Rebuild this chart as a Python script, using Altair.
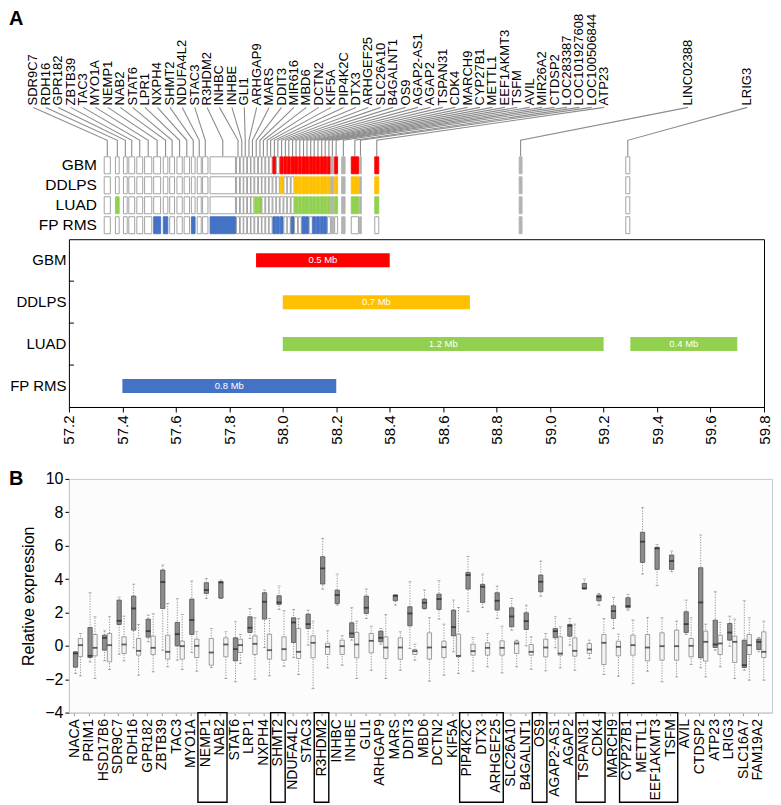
import altair as alt
import pandas as pd
import numpy as np

FONT = "Liberation Sans"

# ---------------- Panel A : gene map ----------------
map_genes = ["SDR9C7", "RDH16", "GPR182", "ZBTB39", "TAC3", "MYO1A", "NEMP1", "NAB2", "STAT6", "LPR1",
             "NXPH4", "SHMT2", "NDUFA4L2", "STAC3", "R3HDM2", "INHBC", "INHBE", "GLI1", "ARHGAP9", "MARS",
             "DDIT3", "MIR616", "MBD6", "DCTN2", "KIF5A", "PIP4K2C", "DTX3", "ARHGEF25", "SLC26A10", "B4GALNT1",
             "OS9", "AGAP2-AS1", "AGAP2", "TSPAN31", "CDK4", "MARCH9", "CYP27B1", "METTL1", "EEF1AKMT3", "TSFM",
             "AVIL", "MIR26A2", "CTDSP2", "LOC283387", "LOC101927608", "LOC100506844", "ATP23", "LINC02388", "LRIG3"]
cell_start = [57.332, 57.374, 57.404, 57.424, 57.454, 57.483, 57.517, 57.553, 57.577, 57.604,
              57.631, 57.658, 57.680, 57.700, 57.728, 57.827, 57.841, 57.854, 57.868, 57.881,
              57.895, 57.909, 57.922, 57.936, 57.949, 57.963, 57.976, 57.990, 58.004, 58.017,
              58.031, 58.044, 58.058, 58.072, 58.085, 58.099, 58.112, 58.126, 58.140, 58.153,
              58.167, 58.180, 58.194, 58.220, 58.256, 58.287, 58.344, 58.884, 59.283]
cell_end = [57.355, 57.388, 57.418, 57.446, 57.476, 57.510, 57.543, 57.570, 57.595, 57.624,
            57.651, 57.672, 57.695, 57.720, 57.823, 57.838, 57.852, 57.865, 57.879, 57.892,
            57.906, 57.920, 57.933, 57.947, 57.960, 57.974, 57.987, 58.001, 58.015, 58.028,
            58.042, 58.055, 58.069, 58.083, 58.096, 58.110, 58.123, 58.137, 58.151, 58.164,
            58.178, 58.191, 58.205, 58.233, 58.283, 58.294, 58.359, 58.895, 59.298]

rows = ["GBM", "DDLPS", "LUAD", "FP RMS"]
row_colors = ["#ff0000", "#ffc000", "#92d050", "#4472c4"]
amp_genes = {
    "GBM": ["PIP4K2C", "ARHGEF25", "SLC26A10", "B4GALNT1", "OS9", "AGAP2-AS1", "AGAP2", "TSPAN31", "CDK4",
            "MARCH9", "CYP27B1", "METTL1", "EEF1AKMT3", "TSFM", "AVIL", "CTDSP2", "LOC101927608", "ATP23"],
    "DDLPS": ["ARHGEF25", "AGAP2-AS1", "AGAP2", "TSPAN31", "CDK4", "MARCH9", "CYP27B1", "METTL1",
              "EEF1AKMT3", "TSFM", "AVIL", "CTDSP2", "LOC101927608", "ATP23"],
    "LUAD": ["RDH16", "DDIT3", "MIR616", "AGAP2-AS1", "AGAP2", "TSPAN31", "CDK4", "MARCH9", "CYP27B1",
             "METTL1", "EEF1AKMT3", "TSFM", "AVIL", "CTDSP2", "LOC101927608", "ATP23"],
    "FP RMS": ["NEMP1", "NAB2", "SHMT2", "R3HDM2", "PIP4K2C", "DTX3", "ARHGEF25", "OS9", "TSPAN31", "CDK4",
               "CYP27B1", "METTL1", "EEF1AKMT3", "TSFM"],
}
na_genes = ["MIR26A2", "LOC283387", "LOC100506844", "LINC02388"]

bar_rows = ["GBM", "DDLPS", "LUAD", "LUAD", "FP RMS"]
bar_start = [57.9, 58.0, 58.0, 59.3, 57.4]
bar_end = [58.4, 58.7, 59.2, 59.7, 58.2]
bar_text = ["0.5 Mb", "0.7 Mb", "1.2 Mb", "0.4 Mb", "0.8 Mb"]
mb_ticks = [57.2, 57.4, 57.6, 57.8, 58.0, 58.2, 58.4, 58.6, 58.8, 59.0, 59.2, 59.4, 59.6, 59.8]

# ---------------- Panel B : expression ----------------
box_genes = ["NACA", "PRIM1", "HSD17B6", "SDR9C7", "RDH16", "GPR182", "ZBTB39", "TAC3", "MYO1A", "NEMP1",
             "NAB2", "STAT6", "LRP1", "NXPH4", "SHMT2", "NDUFA4L2", "STAC3", "R3HDM2", "INHBC", "INHBE",
             "GLI1", "ARHGAP9", "MARS", "DDIT3", "MBD6", "DCTN2", "KIF5A", "PIP4K2C", "DTX3", "ARHGEF25",
             "SLC26A10", "B4GALNT1", "OS9", "AGAP2-AS1", "AGAP2", "TSPAN31", "CDK4", "MARCH9", "CYP27B1", "METTL1",
             "EEF1AKMT3", "TSFM", "AVIL", "CTDSP2", "ATP23", "LRIG3", "SLC16A7", "FAM19A2"]
# tumour (dark boxes)
t_lo = [-1.66, -0.96, -0.9, -0.5, -0.12, 0.24, -0.26, -0.86, -0.4, 2.84, 2.84, -2.16, 0.44, -0.1, 2.18, -0.7,
        0.04, 3.4, 2.44, 0.34, 1.64, 0.1, 2.44, -0.16, 2.2, 1.6, -0.36, 2.04, 2.3, 1.64, 0.94, 0.0, 2.98, -0.12,
        0.04, 3.4, 2.44, 1.04, 2.14, 4.3, 3.6, 4.44, 0.68, -1.32, -0.26, -0.02, -1.46, -0.36]
t_q1 = [-1.28, -0.7, -0.26, 1.28, 0.94, 0.52, 2.24, 0.0, 0.68, 3.14, 2.86, -0.9, 0.8, 1.6, 2.48, 0.2,
        1.04, 3.7, 2.54, 0.5, 1.94, 0.24, 2.7, 1.2, 2.24, 2.18, 0.6, 3.4, 2.6, 2.14, 1.14, 0.98, 3.24, 0.48,
        0.58, 3.42, 2.7, 1.64, 2.28, 5.0, 4.58, 4.58, 0.8, -0.72, -0.1, 0.34, -1.3, -0.22]
t_med = [-0.45, -0.6, 0.48, 1.5, 2.24, 0.88, 3.82, 0.7, 1.54, 3.34, 3.8, -0.2, 1.08, 2.64, 2.6, 1.4,
         1.3, 4.64, 3.04, 0.74, 2.28, 0.48, 3.0, 1.94, 2.58, 2.8, 1.12, 4.24, 3.54, 2.7, 1.76, 1.48, 3.84, 0.88,
         1.2, 3.44, 2.94, 2.08, 2.38, 6.24, 5.84, 5.08, 1.3, 2.6, 0.08, 0.8, -1.16, 0.24]
t_q3 = [-0.36, 1.1, 0.64, 2.74, 2.98, 1.6, 4.54, 1.4, 2.8, 3.78, 3.84, 0.48, 1.74, 3.18, 3.0, 1.68,
        1.9, 5.34, 3.34, 1.38, 2.98, 0.88, 3.04, 2.34, 2.8, 3.1, 2.14, 4.4, 3.68, 3.18, 2.28, 1.98, 4.24, 1.04,
        1.28, 3.74, 3.04, 2.4, 2.88, 6.8, 5.9, 5.44, 2.04, 4.68, 1.54, 1.34, 0.34, 0.4]
t_hi = [-0.36, 3.18, 0.9, 2.92, 3.7, 1.84, 4.84, 2.84, 3.88, 4.04, 3.94, 1.44, 2.24, 3.34, 3.58, 2.18,
        2.14, 6.44, 4.3, 2.28, 3.4, 1.04, 3.06, 3.84, 3.34, 3.9, 2.74, 5.36, 4.3, 3.58, 2.84, 2.44, 5.08, 1.74,
        1.64, 4.0, 3.14, 2.9, 3.08, 8.28, 6.08, 5.68, 2.74, 6.64, 3.24, 1.78, 2.7, 0.5]
# normal (light boxes)
n_lo = [-1.8, -1.96, -1.42, -0.9, -1.76, -1.56, -1.26, -1.42, -1.52, -1.3, -1.96, -1.06, -2.0, -1.8, -1.22,
        -1.72, -2.56, -1.32, -1.16, -1.96, -1.46, -1.96, -1.46, -0.86, -2.12, -1.76, -1.66, -1.52, -1.26, -1.62,
        -1.26, -1.4, -1.5, -1.32, -1.46, -0.76, -1.72, -1.82, -2.26, -1.52, -2.16, -1.86, -1.12, -1.86, -1.26,
        -1.96, -2.06, -2.06]
n_q1 = [-0.65, -0.6, -0.96, -0.46, -0.56, -0.52, -0.8, -0.8, -0.7, -1.16, -0.66, -0.4, -0.52, -0.8, -0.86,
        -0.76, -0.72, -0.52, -0.52, -0.72, -0.42, -0.76, -0.8, -0.52, -0.8, -0.7, -0.66, -0.56, -0.56, -0.56,
        -0.46, -0.56, -0.66, -0.56, -0.62, -0.46, -1.12, -0.6, -0.56, -0.9, -0.86, -0.86, -0.66, -0.92, -0.52,
        -1.0, -0.52, -0.7]
n_med = [0.04, -0.12, 0.04, 0.08, -0.3, -0.12, -0.36, -0.02, 0.0, -0.4, 0.08, 0.04, 0.12, -0.26, -0.2,
         -0.36, 0.18, -0.06, -0.02, 0.08, 0.3, -0.1, -0.1, -0.32, -0.1, -0.08, -0.6, -0.32, -0.12, -0.12,
         0.14, -0.36, -0.1, -0.46, -0.3, -0.22, 0.18, -0.06, 0.04, -0.1, -0.02, -0.02, 0.0, 0.24, 0.14,
         0.24, 0.04, -0.36]
n_q3 = [0.44, 0.68, 0.74, 0.54, 0.44, 0.58, 0.64, 0.28, 0.4, 0.44, 0.48, 0.4, 0.6, 0.7, 0.54,
        1.04, 0.6, 0.16, 0.34, 0.8, 0.74, 0.54, 0.48, -0.22, 0.78, 0.28, 0.7, 0.1, 0.18, 0.3,
        0.28, 0.08, 0.4, 0.54, 0.48, 0.14, 0.68, 0.28, 0.64, 0.68, 0.78, 0.94, 0.44, 0.88, 0.64,
        0.58, 0.68, 0.84]
n_hi = [0.74, 1.74, 1.74, 1.78, 1.28, 1.92, 2.54, 1.88, 0.84, 1.04, 0.84, 0.68, 1.68, 1.64, 2.1,
        1.64, 1.48, 0.9, 0.6, 1.48, 1.18, 1.88, 0.84, 0.1, 1.68, 1.3, 2.3, 0.5, 0.74, 1.18,
        0.34, 0.54, 0.74, 1.14, 1.3, 0.34, 1.64, 0.7, 1.54, 1.7, 1.68, 1.48, 1.68, 1.3, 1.4,
        1.6, 1.68, 1.48]
boxed_groups = [["NEMP1", "NAB2"], ["SHMT2"], ["R3HDM2"], ["PIP4K2C", "DTX3", "ARHGEF25"], ["OS9"],
                ["TSPAN31", "CDK4"], ["CYP27B1", "METTL1", "EEF1AKMT3", "TSFM"]]

# ---------------- layout constants ----------------
W_MAP = 696
W_BOX = 704
LEFT = -60

# ================= Panel A top: labels, connectors, heat strip =================
label_mb = list(np.linspace(57.067, 59.202, 47)) + [59.516, 59.737]
xs_mb = alt.Scale(domain=[57.2, 59.8], nice=False, zero=False)

cell_recs = []
for r in rows:
    for g, s, e in zip(map_genes, cell_start, cell_end):
        cat = r if g in amp_genes[r] else ("na" if g in na_genes else "none")
        cell_recs.append({"row": r, "gene": g, "start": s, "end": e, "cat": cat})
cells = pd.DataFrame(cell_recs)
cat_domain = rows + ["none", "na"]
fill_range = row_colors + ["#ffffff", "#b3b3b3"]
stroke_range = row_colors + ["#9a9a9a", "#b3b3b3"]
row_scale = alt.Scale(domain=rows, range=[144, 224], paddingInner=0.15, paddingOuter=0.075)

heat = alt.Chart(cells).mark_rect(strokeWidth=0.9).encode(
    x=alt.X("start:Q", scale=xs_mb, axis=None),
    x2="end:Q",
    y=alt.Y("row:N", scale=row_scale, axis=None),
    fill=alt.Fill("cat:N", scale=alt.Scale(domain=cat_domain, range=fill_range), legend=None),
    stroke=alt.Stroke("cat:N", scale=alt.Scale(domain=cat_domain, range=stroke_range), legend=None),
)
row_lab = alt.Chart(pd.DataFrame({"row": rows})).mark_text(align="right", fontSize=15.5, font=FONT).encode(
    x=alt.value(28),
    y=alt.Y("row:N", scale=row_scale, axis=None),
    text="row:N",
)

ELBOW = 0.673
con_recs = []
for g, lx, s, e in zip(map_genes, label_mb, cell_start, cell_end):
    c = (s + e) / 2
    con_recs += [{"gene": g, "o": 0, "x": lx, "lvl": 0.0},
                 {"gene": g, "o": 1, "x": c, "lvl": ELBOW},
                 {"gene": g, "o": 2, "x": c, "lvl": 1.0}]
con = alt.Chart(pd.DataFrame(con_recs)).mark_line(color="#8c8c8c", strokeWidth=1.1, clip=False).encode(
    x=alt.X("x:Q", scale=xs_mb, axis=None),
    y=alt.Y("lvl:Q", scale=alt.Scale(domain=[0, 1], range=[96, 145]), axis=None),
    detail="gene:N",
    order="o:Q",
)
glab = alt.Chart(pd.DataFrame({"gene": map_genes, "x": label_mb})).mark_text(
    angle=270, align="left", baseline="middle", fontSize=13, font=FONT, clip=False).encode(
    x=alt.X("x:Q", scale=xs_mb, axis=None),
    y=alt.value(94),
    text="gene:N",
)
a_lab = alt.Chart(pd.DataFrame({"t": ["A"]})).mark_text(
    align="left", baseline="top", fontSize=20, fontWeight="bold", font=FONT).encode(
    x=alt.value(LEFT), y=alt.value(-2), text="t:N")

top = alt.layer(con, heat, row_lab, glab, a_lab).resolve_scale(y="independent").properties(
    width=W_MAP, height=226, view=alt.ViewBackground(stroke="transparent"))

# ================= Panel A bottom: amplicon bars =================
bar_df = pd.DataFrame({"row": bar_rows, "start": bar_start, "end": bar_end, "label": bar_text})
bar_df["mid"] = (bar_df["start"] + bar_df["end"]) / 2
ybar_scale = alt.Scale(domain=rows, paddingInner=0, paddingOuter=0)
ybar_axis = alt.Axis(title=None, ticks=False, domain=False, labelFontSize=15, labelPadding=3,
                     labelColor="black", labelFont=FONT)
xbar_axis = alt.Axis(values=mb_ticks, format=".1f", labelAngle=270, labelFontSize=15, tickSize=5,
                     tickColor="black", domainColor="black", labelFlush=False, labelPadding=3, grid=False,
                     title=None, labelColor="black", labelOverlap=False, labelFont=FONT)
bars = alt.Chart(bar_df).mark_bar(height=14).encode(
    x=alt.X("start:Q", scale=xs_mb, axis=xbar_axis),
    x2="end:Q",
    y=alt.Y("row:N", scale=ybar_scale, axis=ybar_axis),
    color=alt.Color("row:N", scale=alt.Scale(domain=rows, range=row_colors), legend=None),
)
btxt = alt.Chart(bar_df).mark_text(color="white", fontSize=9.5, font=FONT).encode(
    x=alt.X("mid:Q", scale=xs_mb, axis=xbar_axis),
    y=alt.Y("row:N", scale=ybar_scale, axis=ybar_axis),
    text="label:N",
)
bticks = alt.Chart(pd.DataFrame({"row": rows[1:]})).mark_rule(color="black").encode(
    x=alt.value(0), x2=alt.value(5),
    y=alt.Y("row:N", scale=ybar_scale, axis=ybar_axis, bandPosition=0),
)
barchart = alt.layer(bars, btxt, bticks).properties(
    width=W_MAP, height=168, view=alt.ViewBackground(stroke="black", strokeWidth=1))

# ================= Panel B: box plots =================
box_recs = []
for i, g in enumerate(box_genes):
    box_recs.append({"gene": g, "grp": "T", "pos": i + 0.08, "lo": t_lo[i], "q1": t_q1[i],
                     "med": t_med[i], "q3": t_q3[i], "hi": t_hi[i]})
    box_recs.append({"gene": g, "grp": "N", "pos": i + 0.42, "lo": n_lo[i], "q1": n_q1[i],
                     "med": n_med[i], "q3": n_q3[i], "hi": n_hi[i]})
box_df = pd.DataFrame(box_recs)

xsc_b = alt.Scale(domain=[-0.03, 47.64], nice=False, zero=False)
label_expr = "[" + ",".join("'" + g + "'" for g in box_genes) + "][datum.value]"
xax_b = alt.Axis(values=list(range(len(box_genes))), labelExpr=label_expr, labelAngle=270, labelFontSize=14,
                 labelColor="black", tickSize=3, tickColor="#999999", domainColor="#c8c8c8", grid=False,
                 labelPadding=3, labelOverlap=False, labelFlush=False, title=None, labelFont=FONT)
ysc_b = alt.Scale(domain=[-4, 10], nice=False, zero=False)
yax_b = alt.Axis(values=list(range(-4, 11, 2)), grid=False, labelFontSize=16, labelColor="black", tickSize=4,
                 tickColor="black", domainColor="#c8c8c8", labelPadding=2, titleFontSize=16,
                 titleFontWeight="normal", titleColor="black", titlePadding=8, labelFont=FONT, titleFont=FONT)


def bx(f):
    return alt.X(f + ":Q", scale=xsc_b, axis=xax_b, title=None)


def by(f):
    return alt.Y(f + ":Q", scale=ysc_b, axis=yax_b, title="Relative expression")


base = alt.Chart(box_df)
whisk = base.mark_rule(color="#7a7a7a", strokeWidth=0.8, strokeDash=[1.2, 1.4]).encode(
    x=bx("pos"), y=by("lo"), y2="hi:Q")
cap_lo = base.mark_tick(orient="horizontal", size=3, thickness=0.8, color="#7a7a7a").encode(
    x=bx("pos"), y=by("lo"))
cap_hi = base.mark_tick(orient="horizontal", size=3, thickness=0.8, color="#7a7a7a").encode(
    x=bx("pos"), y=by("hi"))
boxes = base.mark_bar(width=4.3, strokeWidth=0.8).encode(
    x=bx("pos"), y=by("q1"), y2="q3:Q",
    fill=alt.Fill("grp:N", scale=alt.Scale(domain=["T", "N"], range=["#8c8c8c", "#f3f3f3"]), legend=None),
    stroke=alt.Stroke("grp:N", scale=alt.Scale(domain=["T", "N"], range=["#505050", "#8a8a8a"]), legend=None),
)
meds = base.mark_tick(orient="horizontal", size=4.8, thickness=1.8, color="#1e1e1e").encode(
    x=bx("pos"), y=by("med"))

rect_df = pd.DataFrame({
    "x0": [box_genes.index(g[0]) - 0.5 for g in boxed_groups],
    "x1": [box_genes.index(g[-1]) + 0.5 for g in boxed_groups],
})
rects = alt.Chart(rect_df).mark_rect(fillOpacity=0, stroke="black", strokeWidth=1.4, clip=False).encode(
    x=bx("x0"), x2="x1:Q",
    y=alt.YDatum(-4, type="quantitative", scale=ysc_b, axis=yax_b, title="Relative expression"),
    y2=alt.Y2Datum(-9.37),
)
b_lab = alt.Chart(pd.DataFrame({"t": ["B"]})).mark_text(
    align="left", baseline="top", fontSize=20, fontWeight="bold", font=FONT).encode(
    x=alt.value(LEFT), y=alt.value(-10), text="t:N")
spacer = alt.Chart(pd.DataFrame({"a": [0]})).mark_rule(opacity=0).encode(
    x=alt.value(0), y=alt.value(-33), y2=alt.value(0))

boxchart = alt.layer(whisk, cap_lo, cap_hi, boxes, meds, rects, b_lab, spacer).properties(
    width=W_BOX, height=234, view=alt.ViewBackground(fill="#fcfcfc", stroke="#c8c8c8"))

chart = alt.vconcat(top, barchart, boxchart, spacing=0).resolve_scale(
    color="independent", fill="independent", stroke="independent"
).properties(
    padding={"left": 0, "top": 0, "right": 0, "bottom": 0}
).configure(font=FONT)

chart.save("out.html", embed_options={"renderer": "svg", "actions": False})
